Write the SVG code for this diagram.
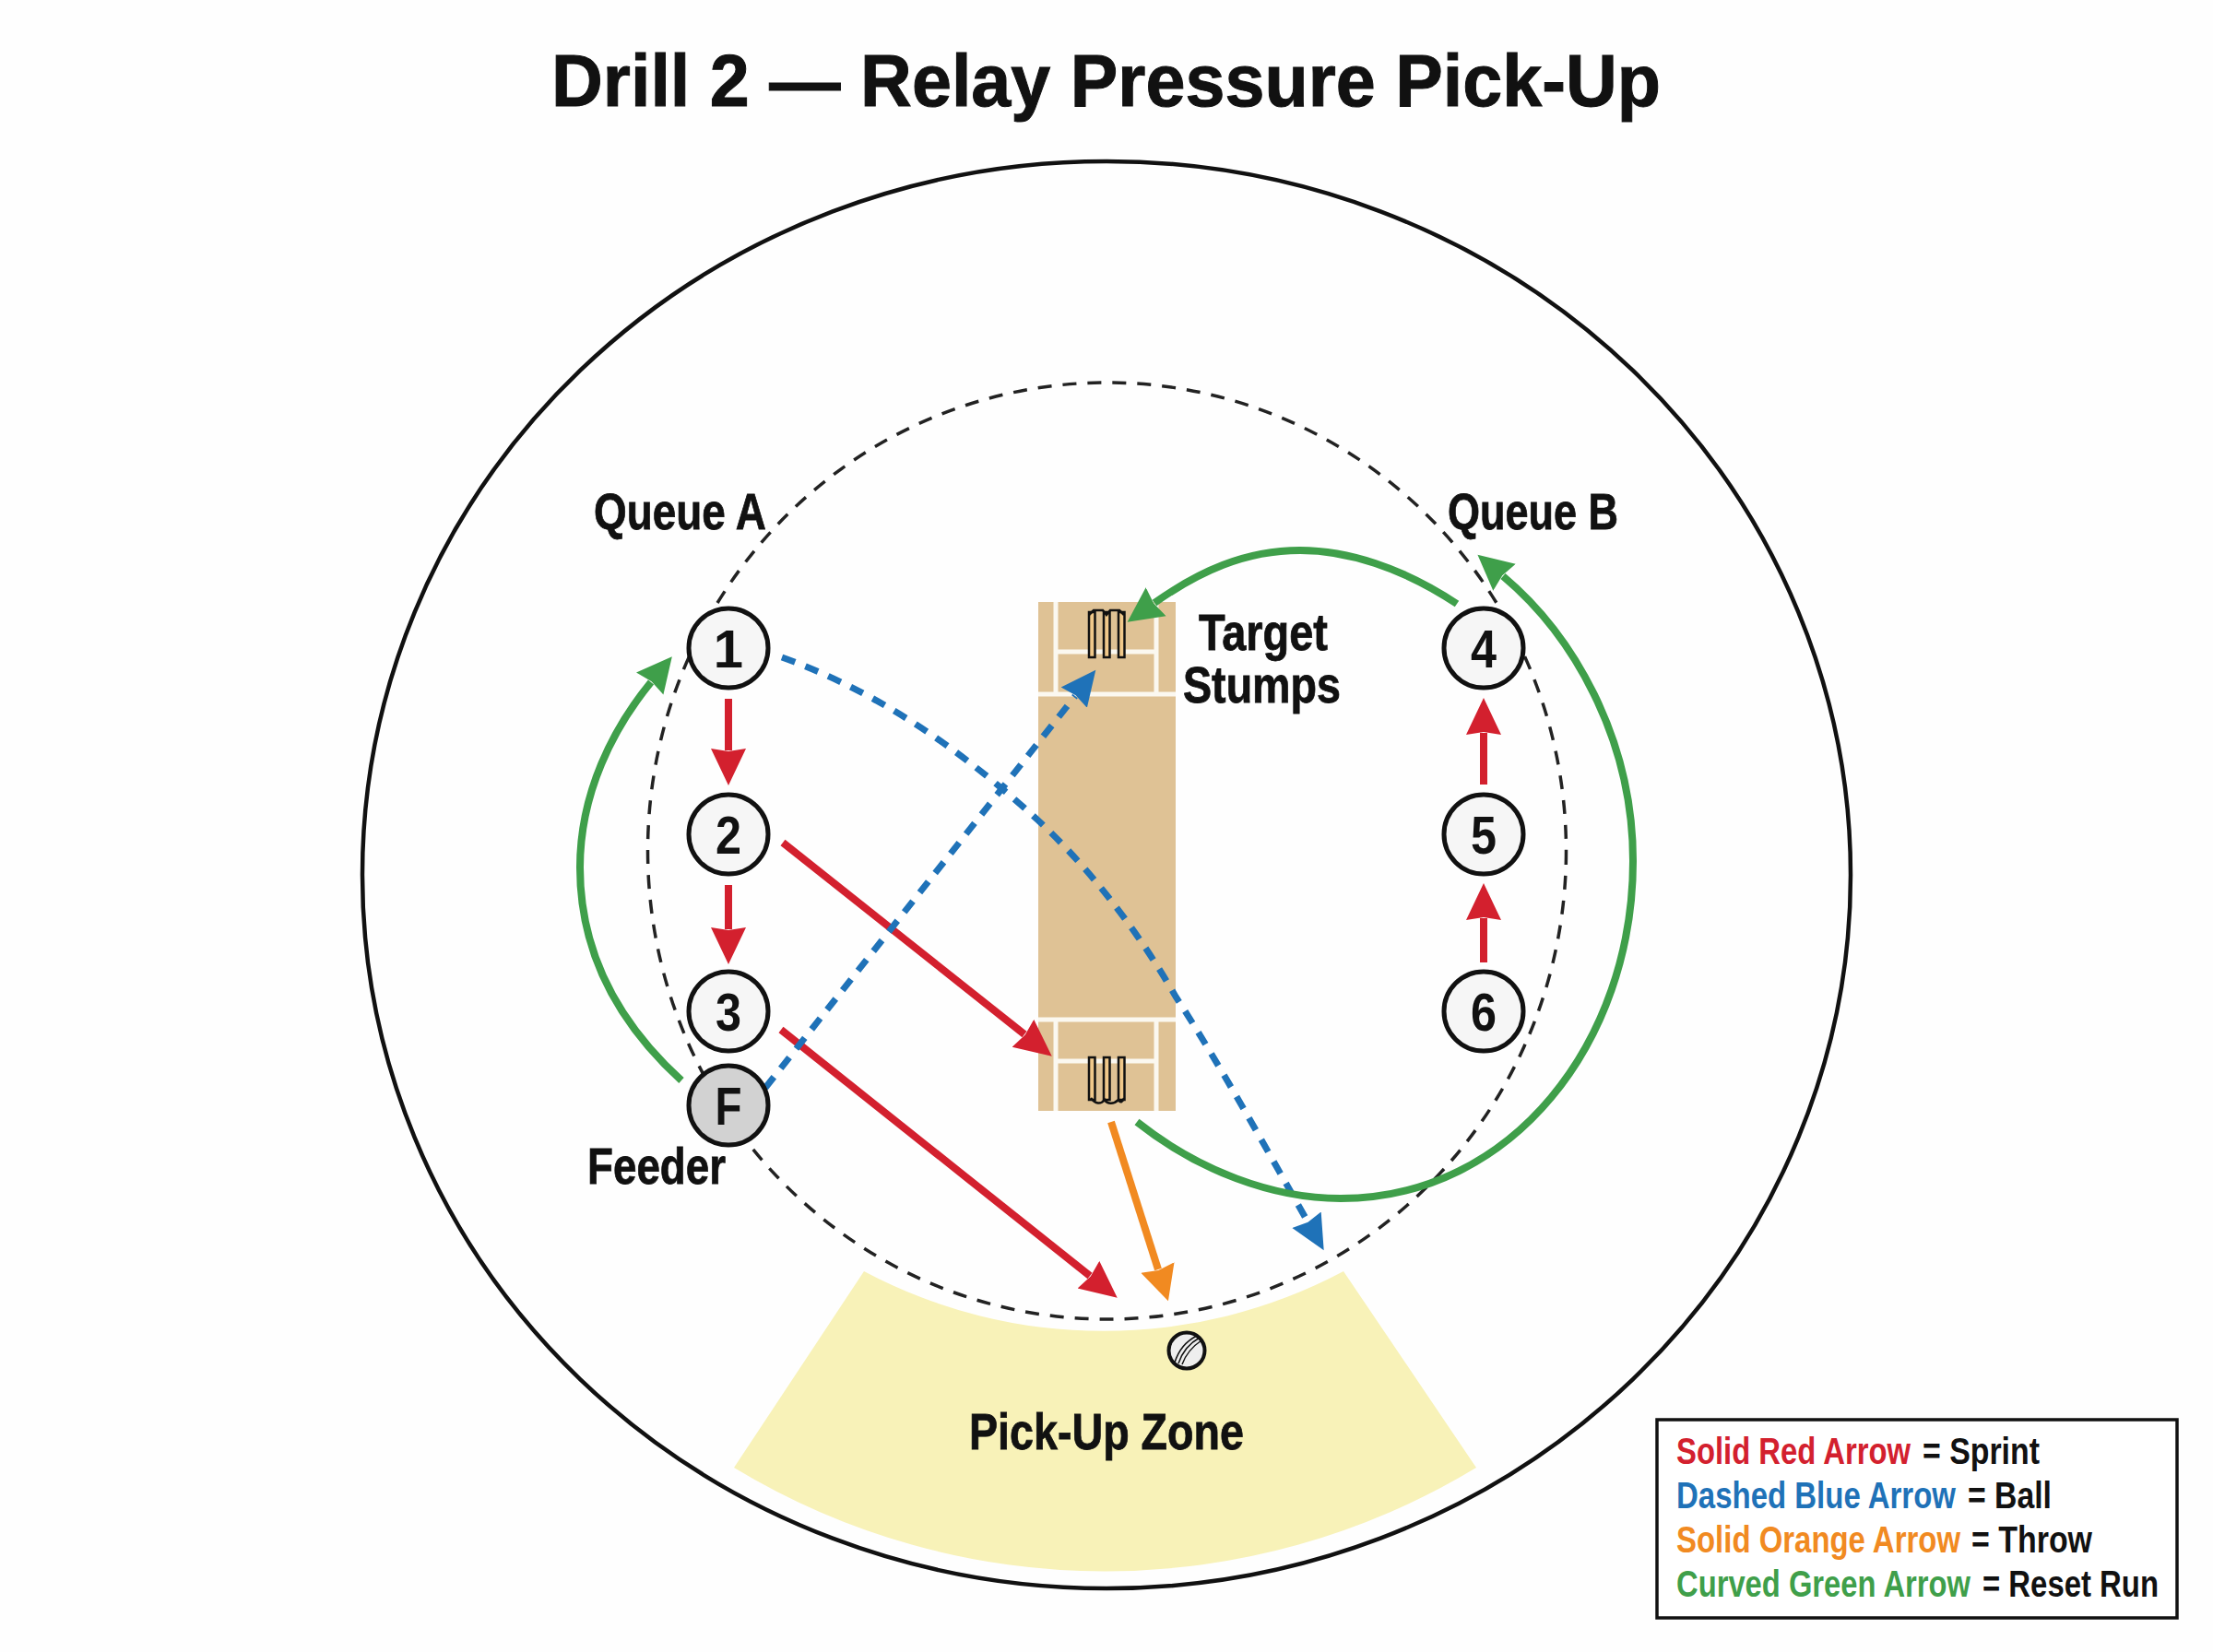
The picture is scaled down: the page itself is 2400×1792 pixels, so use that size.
<svg xmlns="http://www.w3.org/2000/svg" width="2400" height="1792" viewBox="0 0 2400 1792">
<style>
text{font-family:"Liberation Sans",Arial,sans-serif;font-weight:700;fill:#111}
.title{font-size:80px;stroke:#111;stroke-width:1px}
.lab{font-size:56px;stroke:#111;stroke-width:.8px}
.num{font-size:58px;text-anchor:middle}
.leg{font-size:40px}
.red-t{fill:#d3202e}.blue-t{fill:#1f72b8}.orange-t{fill:#f18a21}.green-t{fill:#3f9f4a}
.node{fill:#f6f6f6;stroke:#111;stroke-width:5}
.line{fill:none;stroke-width:8}
.red{stroke:#d3202e}.blue{stroke:#1f72b8;stroke-dasharray:15 12;stroke-width:7}.orange{stroke:#f18a21}.green{stroke:#3f9f4a}
.stump{fill:#f0c88a;stroke:#111;stroke-width:2.5}
.crease{fill:none;stroke:#fbf8f0;stroke-width:5}
</style>
<defs>
<marker id="hr" markerUnits="userSpaceOnUse" markerWidth="44" markerHeight="44" refX="2" refY="20" orient="auto"><path d="M0 1L40 20L0 39L3 20Z" fill="#d3202e"/></marker>
<marker id="hb" markerUnits="userSpaceOnUse" markerWidth="44" markerHeight="44" refX="2" refY="20" orient="auto"><path d="M0 2L38 20L0 38L3 20Z" fill="#1f72b8"/></marker>
<marker id="ho" markerUnits="userSpaceOnUse" markerWidth="44" markerHeight="44" refX="2" refY="20" orient="auto"><path d="M0 1L38 20L0 39L3 20Z" fill="#f18a21"/></marker>
<marker id="hg" markerUnits="userSpaceOnUse" markerWidth="44" markerHeight="44" refX="2" refY="20" orient="auto"><path d="M0 1L38 20L0 39L3 20Z" fill="#3f9f4a"/></marker>
</defs>
<rect width="2400" height="1792" fill="#fefefe"/>
<text class="title" x="598" y="115" textLength="1203" lengthAdjust="spacingAndGlyphs">Drill 2 — Relay Pressure Pick-Up</text>

<g id="field">
<ellipse cx="1200" cy="949" rx="807" ry="774" fill="none" stroke="#111" stroke-width="4.5"/>
<path id="pickup-zone" d="M937 1379A553.6 553.6 0 0 0 1457 1379L1601 1592A777 777 0 0 1 796 1592Z" fill="#f8f2b8"/>
<ellipse cx="1200.500" cy="923" rx="498" ry="508" fill="none" stroke="#222" stroke-width="3.500" stroke-dasharray="15 12"/>
</g>

<g id="pitch">
<rect x="1126" y="653" width="149" height="552" fill="#dfc295"/>
<path class="crease" d="M1126 753H1275M1145 653V753M1254 653V753M1145 707H1254M1126 1106H1275M1145 1106V1205M1254 1106V1205M1145 1151H1254"/>
<g id="stumps-top">
<rect class="stump" x="1181" y="664" width="6.500" height="49"/><rect class="stump" x="1197" y="664" width="6.500" height="49"/><rect class="stump" x="1213" y="664" width="6.500" height="49"/>
<path d="M1181 667L1186 662H1196L1200 667L1204 662H1214L1219 667" fill="none" stroke="#111" stroke-width="2.500"/>
</g>
<g id="stumps-bottom">
<rect class="stump" x="1181" y="1147" width="6.500" height="46"/><rect class="stump" x="1197" y="1147" width="6.500" height="46"/><rect class="stump" x="1213" y="1147" width="6.500" height="46"/>
<path d="M1183 1191C1188 1198 1194 1198 1198 1193C1201 1198 1208 1198 1213 1193C1215 1197 1218 1195 1219 1191" fill="none" stroke="#111" stroke-width="2.500"/>
</g>
</g>

<g id="ball">
<circle cx="1287" cy="1465" r="19.500" fill="#eeeeee" stroke="#111" stroke-width="4"/>
<path d="M1274 1478C1278 1465 1286 1455 1298 1449M1278 1479C1282 1467 1290 1457 1301 1451M1282 1480C1286 1469 1294 1460 1303 1454" fill="none" stroke="#111" stroke-width="1.500"/>
</g>

<g id="connectors">
<path class="line red" marker-end="url(#hr)" d="M790 758V814"/>
<path class="line red" marker-end="url(#hr)" d="M790 960V1008"/>
<path class="line red" marker-end="url(#hr)" d="M1609 851V795"/>
<path class="line red" marker-end="url(#hr)" d="M1609 1044V996"/>
<path class="line red" marker-end="url(#hr)" d="M849 914L1111 1122"/>
<path class="line red" marker-end="url(#hr)" d="M847 1117L1182 1384"/>
<path class="line orange" marker-end="url(#ho)" d="M1205 1217L1256 1377"/>
<path class="line blue" marker-end="url(#hb)" d="M830 1180L1166 755"/>
<path class="line blue" marker-end="url(#hb)" d="M848 713C970 757 1060 830 1126 890C1190 950 1240 1020 1275 1081C1320 1150 1370 1240 1418 1325"/>
<path class="line green" marker-end="url(#hg)" d="M739 1172C660 1100 629 1020 629 941C629 860 665 790 706 740"/>
<path class="line green" marker-end="url(#hg)" d="M1580 655C1520 615 1460 597 1410 597C1350 597 1300 620 1252 654"/>
<path class="line green" marker-end="url(#hg)" d="M1233 1217C1300 1270 1380 1300 1454 1300C1640 1300 1771 1130 1771 934C1771 800 1705 688 1630 625"/>
</g>

<g id="node-1"><circle class="node" cx="790" cy="703" r="43"/><text class="num" x="790" y="724">1</text></g>
<g id="node-2"><circle class="node" cx="790" cy="905" r="43"/><text class="num" x="790" y="926" textLength="28" lengthAdjust="spacingAndGlyphs">2</text></g>
<g id="node-3"><circle class="node" cx="790" cy="1097" r="43"/><text class="num" x="790" y="1118" textLength="28" lengthAdjust="spacingAndGlyphs">3</text></g>
<g id="node-F"><circle class="node" cx="790" cy="1199" r="43" style="fill:#d2d2d2"/><text class="num" x="790" y="1220" textLength="29" lengthAdjust="spacingAndGlyphs">F</text></g>
<g id="node-4"><circle class="node" cx="1609" cy="703" r="43"/><text class="num" x="1609" y="724" textLength="28" lengthAdjust="spacingAndGlyphs">4</text></g>
<g id="node-5"><circle class="node" cx="1609" cy="905" r="43"/><text class="num" x="1609" y="926" textLength="28" lengthAdjust="spacingAndGlyphs">5</text></g>
<g id="node-6"><circle class="node" cx="1609" cy="1097" r="43"/><text class="num" x="1609" y="1118" textLength="28" lengthAdjust="spacingAndGlyphs">6</text></g>

<g id="labels">
<text class="lab" x="644" y="574" textLength="187" lengthAdjust="spacingAndGlyphs">Queue A</text>
<text class="lab" x="1570" y="574" textLength="185" lengthAdjust="spacingAndGlyphs">Queue B</text>
<text class="lab" x="1300" y="705" textLength="140" lengthAdjust="spacingAndGlyphs">Target</text>
<text class="lab" x="1283" y="762" textLength="171" lengthAdjust="spacingAndGlyphs">Stumps</text>
<text class="lab" x="637" y="1284" textLength="150" lengthAdjust="spacingAndGlyphs">Feeder</text>
<text class="lab" x="1051" y="1572" textLength="298" lengthAdjust="spacingAndGlyphs">Pick-Up Zone</text>
</g>

<g id="legend">
<rect x="1797" y="1540" width="564" height="215" fill="#fff" stroke="#111" stroke-width="3.500"/>
<text class="leg red-t" x="1818" y="1588" textLength="254" lengthAdjust="spacingAndGlyphs">Solid Red Arrow</text>
<text class="leg" x="2085" y="1588" textLength="127" lengthAdjust="spacingAndGlyphs">= Sprint</text>
<text class="leg blue-t" x="1818" y="1636" textLength="303" lengthAdjust="spacingAndGlyphs">Dashed Blue Arrow</text>
<text class="leg" x="2134" y="1636" textLength="91" lengthAdjust="spacingAndGlyphs">= Ball</text>
<text class="leg orange-t" x="1818" y="1684" textLength="308" lengthAdjust="spacingAndGlyphs">Solid Orange Arrow</text>
<text class="leg" x="2138" y="1684" textLength="131" lengthAdjust="spacingAndGlyphs">= Throw</text>
<text class="leg green-t" x="1818" y="1732" textLength="319" lengthAdjust="spacingAndGlyphs">Curved Green Arrow</text>
<text class="leg" x="2150" y="1732" textLength="191" lengthAdjust="spacingAndGlyphs">= Reset Run</text>
</g>
</svg>
